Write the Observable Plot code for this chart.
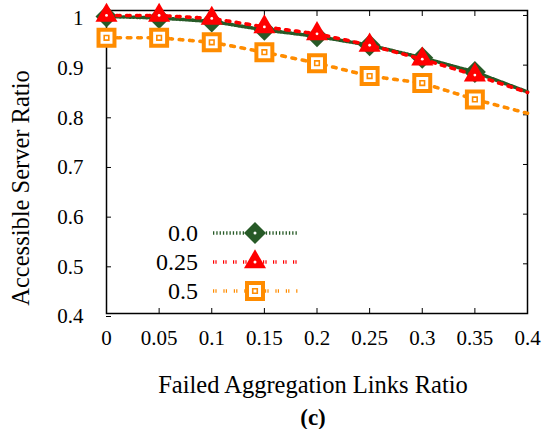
<!DOCTYPE html>
<html>
<head>
<meta charset="utf-8">
<script src="https://cdn.jsdelivr.net/npm/d3@7"></script>
<script src="https://cdn.jsdelivr.net/npm/@observablehq/plot@0.6"></script>
<style>
  html, body { margin: 0; padding: 0; background: #fff; }
  #wrap { position: relative; width: 543px; height: 429px; }
  #legend { position: absolute; left: 0; top: 0; pointer-events: none; }
</style>
</head>
<body>
<div id="wrap"></div>
<script>
// ---- data ----
const xValues = [0, 0.05, 0.1, 0.15, 0.2, 0.25, 0.3, 0.35, 0.4];
const series00 = [0.998, 0.995, 0.988, 0.971, 0.958, 0.940, 0.915, 0.886, 0.846];
const series025 = [1.0, 1.0, 0.994, 0.977, 0.963, 0.940, 0.912, 0.880, 0.845];
const series05 = [0.955, 0.955, 0.946, 0.926, 0.904, 0.878, 0.864, 0.831, 0.803];
const seriesNames = ["0.0", "0.25", "0.5"];
const xTicks = [0, 0.05, 0.1, 0.15, 0.2, 0.25, 0.3, 0.35, 0.4];
const yTicks = [0.4, 0.5, 0.6, 0.7, 0.8, 0.9, 1];
const xLabel = "Failed Aggregation Links Ratio";
const yLabel = "Accessible Server Ratio";
const caption = "(c)";

const colors = ["#275a27", "#ff0000", "#ff8c00"];
const dashes = ["1.3,2", "1.2,1.2,1.2,6.4", "1.2,1.2,1.2,6.8"];
const lineWidth = 3.6;

const allSeries = [series00, series025, series05];
const rows = [];
allSeries.forEach((vals, si) => {
  vals.forEach((v, i) => rows.push({s: seriesNames[si], si, x: xValues[i], y: v, marker: i < xValues.length - 1}));
});
const bySeries = si => rows.filter(d => d.si === si);
const markersOf = si => rows.filter(d => d.si === si && d.marker);

const font = "'Liberation Serif', 'Times New Roman', serif";
const fmtY = d => d === 1 ? "1" : d3.format(".1f")(d);
const fmtX = d => d === 0 ? "0" : String(d);

const chart = Plot.plot({
  width: 543,
  height: 429,
  marginLeft: 106,
  marginRight: 16,
  marginTop: 10,
  marginBottom: 116,
  style: {fontFamily: font, background: "#fff", color: "#000"},
  x: {domain: [0, 0.4]},
  y: {domain: [0.4, 1.01]},
  marks: [
    Plot.axisX({ticks: xTicks, tickFormat: fmtX, tickSize: -5, tickPadding: 22, fontSize: 21, label: null, stroke: "#000"}),
    Plot.axisX({anchor: "top", ticks: xTicks, tickFormat: () => "", tickSize: -5, label: null}),
    Plot.axisY({ticks: yTicks, tickFormat: fmtY, tickSize: -5, tickPadding: 28, fontSize: 21, dy: 3, label: null}),
    Plot.axisY({anchor: "right", ticks: yTicks, tickFormat: () => "", tickSize: -5, label: null}),
    Plot.frame({stroke: "#000", strokeWidth: 1.5}),
    // series 0.0
    Plot.line(bySeries(0), {x: "x", y: "y", stroke: colors[0], strokeWidth: lineWidth, strokeDasharray: dashes[0]}),
    Plot.dot(markersOf(0), {x: "x", y: "y", symbol: "diamond2", r: 9.9, fill: colors[0], stroke: "none"}),
    Plot.dot(markersOf(0), {x: "x", y: "y", r: 1.6, fill: "#fff"}),
    // series 0.25
    Plot.line(bySeries(1), {x: "x", y: "y", stroke: colors[1], strokeWidth: lineWidth, strokeDasharray: dashes[1]}),
    Plot.dot(markersOf(1), {x: "x", y: "y", symbol: "triangle", r: 8.2, fill: colors[1], stroke: "none"}),
    Plot.dot(markersOf(1), {x: "x", y: "y", r: 1.4, fill: "#fff"}),
    // series 0.5
    Plot.line(bySeries(2), {x: "x", y: "y", stroke: colors[2], strokeWidth: lineWidth, strokeDasharray: dashes[2]}),
    Plot.dot(markersOf(2), {x: "x", y: "y", symbol: "square", r: 9.0, fill: "#fff", stroke: colors[2], strokeWidth: 4}),
    Plot.dot(markersOf(2), {x: "x", y: "y", symbol: "square", r: 2.6, fill: "none", stroke: colors[2], strokeWidth: 1.6}),
    // titles
    Plot.text([xLabel], {frameAnchor: "bottom", textAnchor: "middle", lineAnchor: "middle", dy: 72, dx: -4, fontSize: 24.5, fill: "#000"}),
    Plot.text([caption], {frameAnchor: "bottom", textAnchor: "middle", lineAnchor: "middle", dy: 104, dx: -4, fontSize: 23, fontWeight: "bold", fill: "#000"}),
    Plot.text([yLabel], {frameAnchor: "left", textAnchor: "middle", lineAnchor: "middle", rotate: -90, dx: -85, dy: 26, fontSize: 24.5, fill: "#000"})
  ]
});

const wrap = document.getElementById("wrap");
wrap.appendChild(chart);

// ---- legend overlay ----
const leg = d3.select(wrap).append("svg")
  .attr("id", "legend").attr("width", 543).attr("height", 429);
const legRowY = [233, 262, 291];
const legendMarkers = [
  {type: d3.symbolDiamond2, size: 308, fill: colors[0], stroke: "none", sw: 0},
  {type: d3.symbolTriangle, size: 210, fill: colors[1], stroke: "none", sw: 0},
  {type: d3.symbolSquare, size: 256, fill: "#fff", stroke: colors[2], sw: 4}
];
seriesNames.forEach((name, i) => {
  const g = leg.append("g").attr("transform", `translate(0,${legRowY[i]})`);
  g.append("text").attr("x", 198).attr("y", 0).attr("dy", "0.34em")
    .attr("text-anchor", "end").attr("font-family", font).attr("font-size", 24).text(name);
  g.append("line").attr("x1", 213).attr("x2", 298).attr("y1", 0).attr("y2", 0)
    .attr("stroke", colors[i]).attr("stroke-width", lineWidth).attr("stroke-dasharray", dashes[i]);
  const m = legendMarkers[i];
  g.append("path").attr("transform", "translate(255,0)")
    .attr("d", d3.symbol(m.type, m.size)())
    .attr("fill", m.fill).attr("stroke", m.stroke).attr("stroke-width", m.sw);
  if (i < 2) {
    g.append("circle").attr("cx", 255).attr("cy", 0).attr("r", 1.5).attr("fill", "#fff");
  } else {
    g.append("path").attr("transform", "translate(255,0)")
      .attr("d", d3.symbol(d3.symbolSquare, 21)()).attr("fill", "none")
      .attr("stroke", colors[2]).attr("stroke-width", 1.6);
  }
});
</script>
</body>
</html>
